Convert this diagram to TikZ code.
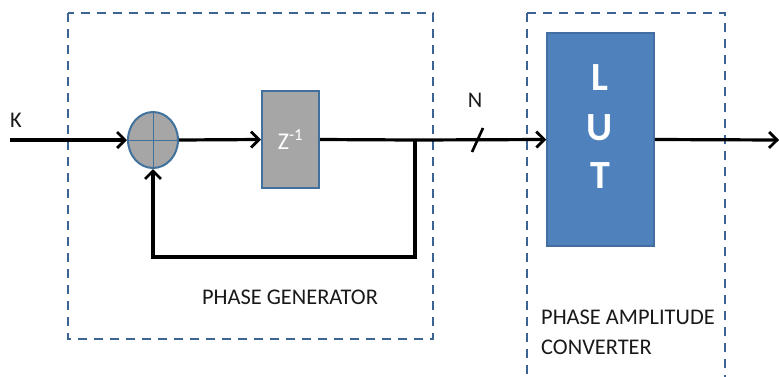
\documentclass[tikz,border=0pt]{standalone}
\usepackage{fontspec}
\setmainfont{Carlito}
\usetikzlibrary{arrows.meta,shapes.geometric}
\definecolor{frameblue}{HTML}{3B6494}
\definecolor{edgeblue}{HTML}{41719C}
\definecolor{lutblue}{HTML}{4F81BD}
\definecolor{boxgray}{HTML}{A6A6A6}
\tikzset{
  x=1pt, y=-1pt,
  frame/.style={draw=frameblue, line width=2pt, dash pattern=on 9pt off 7pt},
  wire/.style={draw=black, line width=3.2pt},
  flow/.style={wire, -{Straight Barb[length=8pt, width=16pt, line width=2.8pt]}},
  caption/.style={font=\fontsize{22.4}{30}\selectfont, text=black!90, inner sep=0pt},
  sumnode/.style={ellipse, draw=edgeblue, line width=2pt, fill=boxgray,
    minimum width=50pt, minimum height=56pt, inner sep=0pt,
    path picture={\draw[line width=1pt] (path picture bounding box.north) -- (path picture bounding box.south)
      (path picture bounding box.west) -- (path picture bounding box.east);}},
  delaybox/.style={rectangle, draw=edgeblue, line width=2pt, fill=boxgray,
    minimum width=57pt, minimum height=97pt, inner sep=0pt},
  lutbox/.style={rectangle, draw=lutblue!85!black, line width=1.5pt, fill=lutblue,
    minimum width=107pt, minimum height=213pt, inner sep=0pt},
  lutletter/.style={text=white, font=\fontsize{40}{42}\selectfont\bfseries},
}
\begin{document}
\begin{tikzpicture}
\useasboundingbox (0,0) rectangle (779,376);

% dashed block outlines
\draw[frame] (68,13) rectangle (433,339);
\draw[frame] (527,13) -- (725,13) -- (725,380) (527,13) -- (527,380);

% blocks
\node[sumnode] (sum) at (153,140) {};
\node[delaybox] (delay) at (290.5,139.5) {};
\node[text=white, font=\fontsize{24}{26}\selectfont] (zlabel) at (delay) {Z\textsuperscript{-1}};
\node[lutbox] (lut) at (600.5,139.5) {};
\node[lutletter] (l1) at (600,78) {L};
\node[lutletter] (l2) at (600,128) {U};
\node[lutletter] (l3) at (600,176) {T};

% labels
\node[caption] (klabel) at (16,120) {K};
\node[caption] (nlabel) at (475,100) {N};
\node[caption] (pg) at (290,297) {PHASE GENERATOR};
\node[caption, align=left, anchor=north west] (pac) at (541,310) {PHASE AMPLITUDE\\CONVERTER};

% connectors
\coordinate (in) at (10,140);
\coordinate (tap) at (415,140);
\coordinate (fb) at (415,257);
\coordinate (out) at (779,140);
\draw[flow] (in) -- (sum.west);
\draw[flow] (sum.east) -- (delay.west);
\draw[wire] (delay.east) -- (tap);
\draw[flow] (tap) -- (lut.west);
\draw[flow] (tap) -- (fb) -| (sum.south);
\draw[flow] (lut.east) -- (out);
% bus width mark
\draw[line width=2.6pt] (472,152) -- (483,128);
\end{tikzpicture}
\end{document}
